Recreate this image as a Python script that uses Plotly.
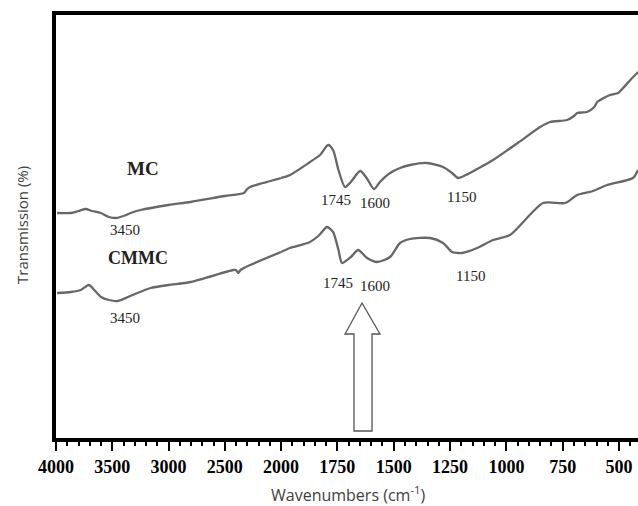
import plotly.graph_objects as go
import numpy as np

# ---------------- data ----------------
wavenumber_mc = [3990, 3867, 3800, 3735, 3680, 3602, 3530, 3469, 3400, 3336, 3248, 3000, 2805,
                 2500, 2330, 2300, 2274, 2159, 2000, 1960, 1871, 1827, 1791, 1769, 1745,
                 1716, 1690, 1649, 1620, 1587, 1561, 1516, 1472, 1427, 1352, 1281, 1241,
                 1214, 1180, 1130, 1059, 950, 850, 806, 731, 700, 686, 642, 610, 597, 540,
                 504, 482, 450, 415]
transmission_mc = [227, 227, 229, 231, 229, 227, 223, 222, 224, 227, 230, 235, 238,
                   244, 247, 251, 253, 257, 262, 265, 278, 285, 295, 290, 270,
                   253, 258, 269, 262, 251, 258, 267, 272, 275, 277, 273, 267,
                   262, 265, 271, 280, 297, 313, 318, 320, 324, 327, 328, 333, 338, 345,
                   347, 352, 360, 368]

wavenumber_cmmc = [3990, 3867, 3780, 3708, 3660, 3600, 3530, 3451, 3320, 3159, 3000, 2805,
                   2425, 2400, 2381, 2360, 2274, 2000, 1960, 1871, 1830, 1796, 1769, 1745,
                   1729, 1690, 1658, 1618, 1574, 1516, 1472, 1427, 1339, 1281, 1241, 1214,
                   1197, 1130, 1059, 984, 837, 739, 686, 615, 553, 438, 416]
transmission_cmmc = [147, 148, 150, 155, 150, 143, 140, 139, 145, 152, 155, 158,
                     170, 170, 167, 170, 175, 188, 192, 198, 205, 213, 208, 190,
                     177, 183, 190, 182, 178, 183, 197, 201, 202, 197, 188, 187,
                     187, 192, 200, 205, 237, 237, 245, 249, 255, 262, 270]

high_ticks = [4000, 3500, 3000, 2500, 2000]
low_ticks = [1750, 1500, 1250, 1000, 750, 500]

series_names = ["MC", "CMMC"]
peak_labels = ["3450", "1745", "1600", "1150"]

# ---------------- figure ----------------
W, H = 638, 506
L, R, T, B = 56, 0, 15, 68
split = 2000
x_end = 416
left_px = 56
split_px = 281
dom_split = (split_px - left_px) / (W - left_px - R)

def px(xp, yp):
    return (xp - left_px) / (W - left_px - R), (438 - yp) / (438 - 15)

line_color = "#676767"
fig = go.Figure()

for name, wn, tr in [(series_names[0], wavenumber_mc, transmission_mc),
                     (series_names[1], wavenumber_cmmc, transmission_cmmc)]:
    wn = np.array(wn, dtype=float)
    tr = np.array(tr, dtype=float)
    hi = wn >= split
    lo = wn <= split
    fig.add_trace(go.Scatter(x=wn[hi], y=tr[hi], mode="lines", name=name,
                             line=dict(color=line_color, width=2.3, shape="spline", smoothing=0.7),
                             xaxis="x", yaxis="y", showlegend=False))
    fig.add_trace(go.Scatter(x=wn[lo], y=tr[lo], mode="lines", name=name,
                             line=dict(color=line_color, width=2.3, shape="spline", smoothing=0.7),
                             xaxis="x2", yaxis="y", showlegend=False))

tickfont = dict(family="Liberation Serif", size=18, color="black", weight="bold")
common = dict(showline=True, linecolor="black", linewidth=4, mirror=True,
              ticks="outside", ticklen=9, tickwidth=2, tickcolor="black",
              showgrid=False, zeroline=False, tickfont=tickfont, automargin=False)

fig.update_layout(
    width=W, height=H,
    margin=dict(l=L, r=R, t=T, b=B, autoexpand=False),
    paper_bgcolor="white", plot_bgcolor="white",
    xaxis=dict(domain=[0, dom_split], range=[4000, split], tickvals=high_ticks,
               minor=dict(dtick=100, ticks="outside", ticklen=4, tickwidth=1.5,
                          tickcolor="black", showgrid=False),
               anchor="y", **common),
    xaxis2=dict(domain=[dom_split, 1], range=[split, x_end], tickvals=low_ticks,
                minor=dict(dtick=50, ticks="outside", ticklen=4, tickwidth=1.5,
                           tickcolor="black", showgrid=False),
                anchor="y", **common),
    yaxis=dict(range=[2, 425], showline=True, linecolor="black", linewidth=4,
               showticklabels=False, ticks="", showgrid=False, zeroline=False,
               automargin=False),
)

serif = "Liberation Serif"
ann = []
def add_text(text, xp, yp, size=15, bold=False, family=serif, color="#222", angle=0):
    x, y = px(xp, yp)
    ann.append(dict(text=text, x=x, y=y, xref="paper", yref="paper", showarrow=False,
                    xanchor="center", yanchor="middle", textangle=angle,
                    font=dict(family=family, size=size, color=color,
                              weight="bold" if bold else "normal")))

add_text(series_names[0], 143, 168, size=19, bold=True)
add_text(series_names[1], 138, 258, size=18, bold=True)
add_text(peak_labels[0], 125, 230)
add_text(peak_labels[0], 125, 318)
add_text(peak_labels[1], 336, 200)
add_text(peak_labels[2], 375, 203)
add_text(peak_labels[3], 461, 197)
add_text(peak_labels[1], 338, 283)
add_text(peak_labels[2], 375, 286)
add_text(peak_labels[3], 470, 276)
add_text("Wavenumbers (cm<sup>-1</sup>)", 348, 494, size=16, family="Open Sans", color="#404040")
add_text("Transmission (%)", 22, 225, size=15, family="Open Sans", color="#404040", angle=-90)
fig.update_layout(annotations=ann)

# hollow arrow
pts = [(362, 303), (345, 334), (354, 334), (354, 431), (372, 431), (372, 334), (380, 334)]
pp = [px(a, b) for a, b in pts]
path = "M " + " L ".join(f"{x:.4f},{y:.4f}" for x, y in pp) + " Z"
fig.add_shape(type="path", path=path, xref="paper", yref="paper",
              line=dict(color="#555555", width=1.3), fillcolor="white")

fig.write_html("out.html", config={"displayModeBar": False},
               post_script="document.body.style.margin='0';document.body.style.overflow='hidden';")
